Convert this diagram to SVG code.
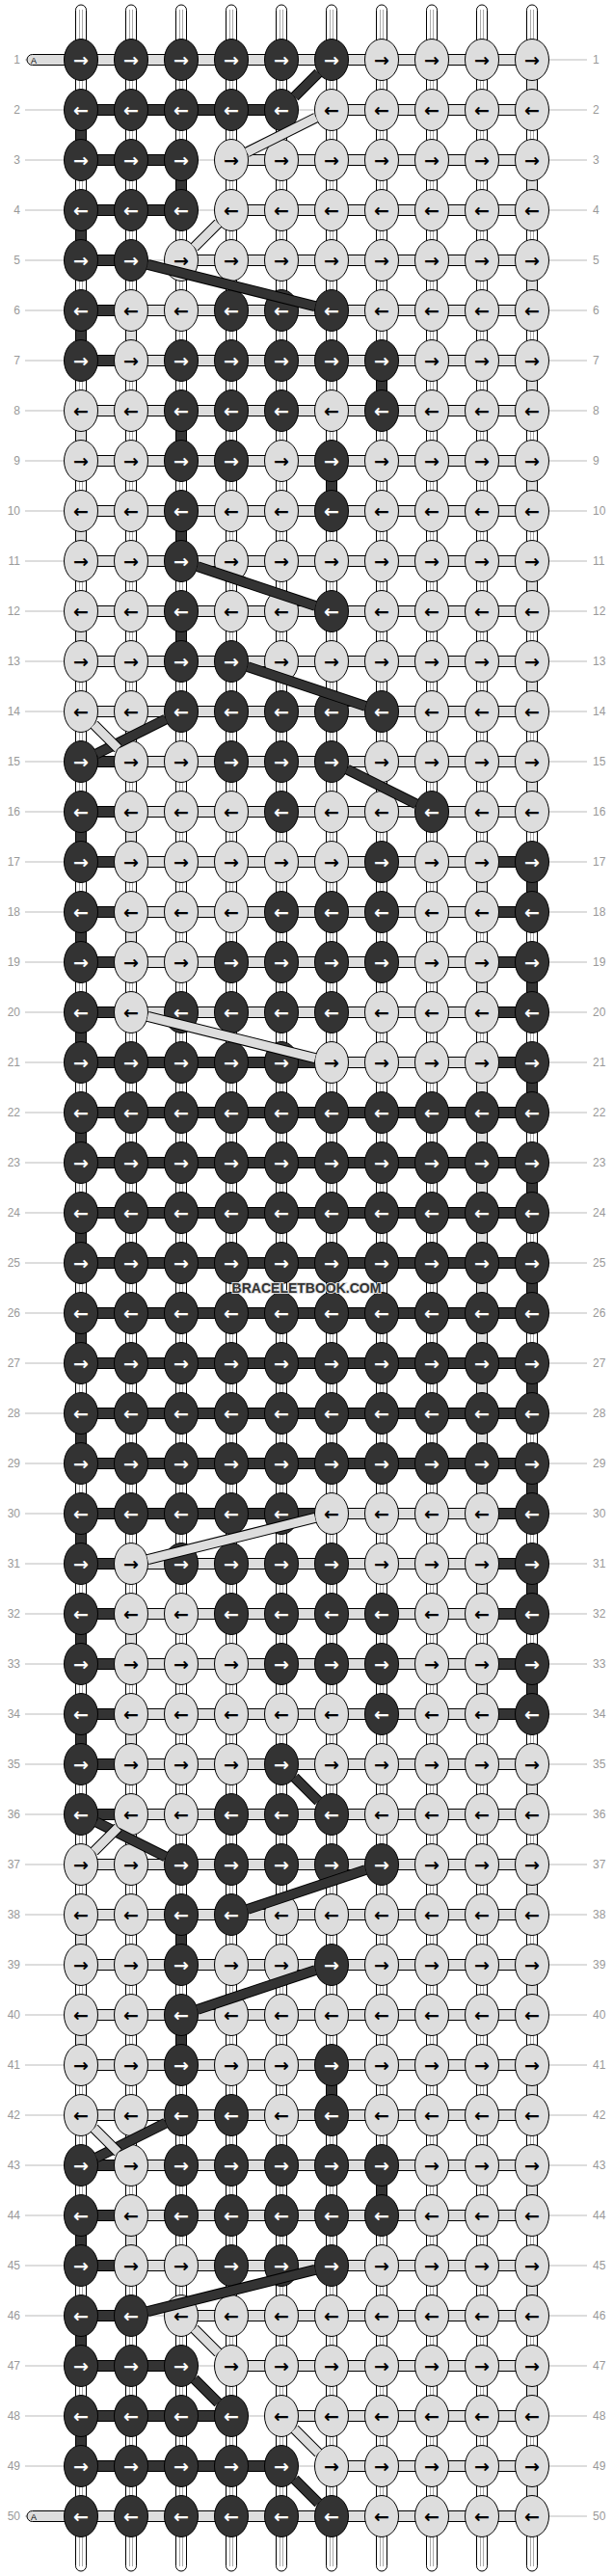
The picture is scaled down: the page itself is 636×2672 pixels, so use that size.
<svg xmlns="http://www.w3.org/2000/svg" width="636" height="2672" viewBox="0 0 636 2672">
<style>
.gl{stroke:#bbb;stroke-width:1;fill:none}
.lb text{font-family:"Liberation Sans",Arial,sans-serif;font-size:12px;fill:#999}
#labL text{text-anchor:end}
.wp{fill:#fff;stroke:#000;stroke-width:1}
.wl{stroke:#aaa;stroke-width:1;fill:none}
.D{fill:#333;stroke:#000;stroke-width:1}
.L{fill:#ddd;stroke:#000;stroke-width:1}
#nodes ellipse{rx:17.5px;ry:21.5px;stroke:#000;stroke-width:1}
#nodes .d ellipse{fill:#333}
#nodes .l ellipse{fill:#ddd}
#nodes text{font-family:"DejaVu Sans",sans-serif;font-weight:bold;font-size:19px;text-anchor:middle;dominant-baseline:central}
#nodes .d text{fill:#fff}
#nodes .l text{fill:#000}
.o{stroke:#000;stroke-width:11}
.cd{stroke:#333;stroke-width:9}
.cl{stroke:#ddd;stroke-width:9}
.wm{font-family:"Liberation Sans",Arial,sans-serif;font-weight:bold;font-size:14px;fill:#333;stroke:#ddd;stroke-width:2;paint-order:stroke;text-anchor:middle}
.al{font-family:"Liberation Sans",Arial,sans-serif;font-size:9px;fill:#000}
</style>
<g id="guides">
<path class="gl" d="M26 62H609M26 114H609M26 166H609M26 218H609M26 270H609M26 322H609M26 374H609M26 426H609M26 478H609M26 530H609M26 582H609M26 634H609M26 686H609M26 738H609M26 790H609M26 842H609M26 894H609M26 946H609M26 998H609M26 1050H609M26 1102H609M26 1154H609M26 1206H609M26 1258H609M26 1310H609M26 1362H609M26 1414H609M26 1466H609M26 1518H609M26 1570H609M26 1622H609M26 1674H609M26 1726H609M26 1778H609M26 1830H609M26 1882H609M26 1934H609M26 1986H609M26 2038H609M26 2090H609M26 2142H609M26 2194H609M26 2246H609M26 2298H609M26 2350H609M26 2402H609M26 2454H609M26 2506H609M26 2558H609M26 2610H609"/>
<g id="labL" class="lb">
<text x="21" y="66">1</text><text x="21" y="118">2</text><text x="21" y="170">3</text><text x="21" y="222">4</text><text x="21" y="274">5</text><text x="21" y="326">6</text><text x="21" y="378">7</text><text x="21" y="430">8</text><text x="21" y="482">9</text><text x="21" y="534">10</text>
<text x="21" y="586">11</text><text x="21" y="638">12</text><text x="21" y="690">13</text><text x="21" y="742">14</text><text x="21" y="794">15</text><text x="21" y="846">16</text><text x="21" y="898">17</text><text x="21" y="950">18</text><text x="21" y="1002">19</text><text x="21" y="1054">20</text>
<text x="21" y="1106">21</text><text x="21" y="1158">22</text><text x="21" y="1210">23</text><text x="21" y="1262">24</text><text x="21" y="1314">25</text><text x="21" y="1366">26</text><text x="21" y="1418">27</text><text x="21" y="1470">28</text><text x="21" y="1522">29</text><text x="21" y="1574">30</text>
<text x="21" y="1626">31</text><text x="21" y="1678">32</text><text x="21" y="1730">33</text><text x="21" y="1782">34</text><text x="21" y="1834">35</text><text x="21" y="1886">36</text><text x="21" y="1938">37</text><text x="21" y="1990">38</text><text x="21" y="2042">39</text><text x="21" y="2094">40</text>
<text x="21" y="2146">41</text><text x="21" y="2198">42</text><text x="21" y="2250">43</text><text x="21" y="2302">44</text><text x="21" y="2354">45</text><text x="21" y="2406">46</text><text x="21" y="2458">47</text><text x="21" y="2510">48</text><text x="21" y="2562">49</text><text x="21" y="2614">50</text>
</g>
<g id="labR" class="lb">
<text x="615" y="66">1</text><text x="615" y="118">2</text><text x="615" y="170">3</text><text x="615" y="222">4</text><text x="615" y="274">5</text><text x="615" y="326">6</text><text x="615" y="378">7</text><text x="615" y="430">8</text><text x="615" y="482">9</text><text x="615" y="534">10</text>
<text x="615" y="586">11</text><text x="615" y="638">12</text><text x="615" y="690">13</text><text x="615" y="742">14</text><text x="615" y="794">15</text><text x="615" y="846">16</text><text x="615" y="898">17</text><text x="615" y="950">18</text><text x="615" y="1002">19</text><text x="615" y="1054">20</text>
<text x="615" y="1106">21</text><text x="615" y="1158">22</text><text x="615" y="1210">23</text><text x="615" y="1262">24</text><text x="615" y="1314">25</text><text x="615" y="1366">26</text><text x="615" y="1418">27</text><text x="615" y="1470">28</text><text x="615" y="1522">29</text><text x="615" y="1574">30</text>
<text x="615" y="1626">31</text><text x="615" y="1678">32</text><text x="615" y="1730">33</text><text x="615" y="1782">34</text><text x="615" y="1834">35</text><text x="615" y="1886">36</text><text x="615" y="1938">37</text><text x="615" y="1990">38</text><text x="615" y="2042">39</text><text x="615" y="2094">40</text>
<text x="615" y="2146">41</text><text x="615" y="2198">42</text><text x="615" y="2250">43</text><text x="615" y="2302">44</text><text x="615" y="2354">45</text><text x="615" y="2406">46</text><text x="615" y="2458">47</text><text x="615" y="2510">48</text><text x="615" y="2562">49</text><text x="615" y="2614">50</text>
</g>
</g>
<g id="warps">
<rect class="wp" x="78.5" y="5" width="11" height="2662" rx="5.5"/>
<rect class="wp" x="130.5" y="5" width="11" height="2662" rx="5.5"/>
<rect class="wp" x="182.5" y="5" width="11" height="2662" rx="5.5"/>
<rect class="wp" x="234.5" y="5" width="11" height="2662" rx="5.5"/>
<rect class="wp" x="286.5" y="5" width="11" height="2662" rx="5.5"/>
<rect class="wp" x="338.5" y="5" width="11" height="2662" rx="5.5"/>
<rect class="wp" x="390.5" y="5" width="11" height="2662" rx="5.5"/>
<rect class="wp" x="442.5" y="5" width="11" height="2662" rx="5.5"/>
<rect class="wp" x="494.5" y="5" width="11" height="2662" rx="5.5"/>
<rect class="wp" x="546.5" y="5" width="11" height="2662" rx="5.5"/>
<path class="wl" d="M82.5 10V2662M85.5 10V2662M134.5 10V2662M137.5 10V2662M186.5 10V2662M189.5 10V2662M238.5 10V2662M241.5 10V2662M290.5 10V2662M293.5 10V2662M342.5 10V2662M345.5 10V2662M394.5 10V2662M397.5 10V2662M446.5 10V2662M449.5 10V2662M498.5 10V2662M501.5 10V2662M550.5 10V2662M553.5 10V2662"/>
</g>
<g id="connectors">
<g id="weft-start">
<rect class="L" x="28" y="56.5" width="60" height="11" rx="5.5"/>
<text class="al" x="32" y="65.5">A</text>
<rect class="L" x="28" y="2604.5" width="60" height="11" rx="5.5"/>
<text class="al" x="32" y="2613.5">A</text>
</g>
<g id="rows">
<rect class="L" x="84" y="56.5" width="468" height="11"/>
<rect class="D" x="84" y="108.5" width="208" height="11"/><rect class="L" x="344" y="108.5" width="208" height="11"/>
<rect class="D" x="84" y="160.5" width="104" height="11"/><rect class="L" x="240" y="160.5" width="312" height="11"/>
<rect class="D" x="84" y="212.5" width="104" height="11"/><rect class="L" x="240" y="212.5" width="312" height="11"/>
<rect class="D" x="84" y="264.5" width="52" height="11"/><rect class="L" x="188" y="264.5" width="364" height="11"/>
<rect class="D" x="84" y="316.5" width="52" height="11"/><rect class="L" x="136" y="316.5" width="416" height="11"/>
<rect class="D" x="84" y="368.5" width="52" height="11"/><rect class="L" x="136" y="368.5" width="416" height="11"/>
<rect class="L" x="84" y="420.5" width="468" height="11"/>
<rect class="L" x="84" y="472.5" width="468" height="11"/>
<rect class="L" x="84" y="524.5" width="468" height="11"/>
<rect class="L" x="84" y="576.5" width="468" height="11"/>
<rect class="L" x="84" y="628.5" width="468" height="11"/>
<rect class="L" x="84" y="680.5" width="468" height="11"/>
<rect class="L" x="84" y="732.5" width="468" height="11"/>
<rect class="D" x="84" y="784.5" width="52" height="11"/><rect class="L" x="136" y="784.5" width="416" height="11"/>
<rect class="D" x="84" y="836.5" width="52" height="11"/><rect class="L" x="136" y="836.5" width="416" height="11"/>
<rect class="D" x="84" y="888.5" width="52" height="11"/><rect class="L" x="136" y="888.5" width="364" height="11"/><rect class="D" x="500" y="888.5" width="52" height="11"/>
<rect class="D" x="84" y="940.5" width="52" height="11"/><rect class="L" x="136" y="940.5" width="364" height="11"/><rect class="D" x="500" y="940.5" width="52" height="11"/>
<rect class="D" x="84" y="992.5" width="52" height="11"/><rect class="L" x="136" y="992.5" width="364" height="11"/><rect class="D" x="500" y="992.5" width="52" height="11"/>
<rect class="D" x="84" y="1044.5" width="52" height="11"/><rect class="L" x="136" y="1044.5" width="364" height="11"/><rect class="D" x="500" y="1044.5" width="52" height="11"/>
<rect class="D" x="84" y="1096.5" width="260" height="11"/><rect class="L" x="344" y="1096.5" width="156" height="11"/><rect class="D" x="500" y="1096.5" width="52" height="11"/>
<rect class="D" x="84" y="1148.5" width="468" height="11"/>
<rect class="D" x="84" y="1200.5" width="468" height="11"/>
<rect class="D" x="84" y="1252.5" width="468" height="11"/>
<rect class="D" x="84" y="1304.5" width="468" height="11"/>
<rect class="D" x="84" y="1356.5" width="468" height="11"/>
<rect class="D" x="84" y="1408.5" width="468" height="11"/>
<rect class="D" x="84" y="1460.5" width="468" height="11"/>
<rect class="D" x="84" y="1512.5" width="468" height="11"/>
<rect class="D" x="84" y="1564.5" width="260" height="11"/><rect class="L" x="344" y="1564.5" width="156" height="11"/><rect class="D" x="500" y="1564.5" width="52" height="11"/>
<rect class="D" x="84" y="1616.5" width="52" height="11"/><rect class="L" x="136" y="1616.5" width="364" height="11"/><rect class="D" x="500" y="1616.5" width="52" height="11"/>
<rect class="D" x="84" y="1668.5" width="52" height="11"/><rect class="L" x="136" y="1668.5" width="364" height="11"/><rect class="D" x="500" y="1668.5" width="52" height="11"/>
<rect class="D" x="84" y="1720.5" width="52" height="11"/><rect class="L" x="136" y="1720.5" width="364" height="11"/><rect class="D" x="500" y="1720.5" width="52" height="11"/>
<rect class="D" x="84" y="1772.5" width="52" height="11"/><rect class="L" x="136" y="1772.5" width="364" height="11"/><rect class="D" x="500" y="1772.5" width="52" height="11"/>
<rect class="D" x="84" y="1824.5" width="52" height="11"/><rect class="L" x="136" y="1824.5" width="416" height="11"/>
<rect class="D" x="84" y="1876.5" width="52" height="11"/><rect class="L" x="136" y="1876.5" width="416" height="11"/>
<rect class="L" x="84" y="1928.5" width="468" height="11"/>
<rect class="L" x="84" y="1980.5" width="468" height="11"/>
<rect class="L" x="84" y="2032.5" width="468" height="11"/>
<rect class="L" x="84" y="2084.5" width="468" height="11"/>
<rect class="L" x="84" y="2136.5" width="468" height="11"/>
<rect class="L" x="84" y="2188.5" width="468" height="11"/>
<rect class="D" x="84" y="2240.5" width="52" height="11"/><rect class="L" x="136" y="2240.5" width="416" height="11"/>
<rect class="D" x="84" y="2292.5" width="52" height="11"/><rect class="L" x="136" y="2292.5" width="416" height="11"/>
<rect class="D" x="84" y="2344.5" width="52" height="11"/><rect class="L" x="136" y="2344.5" width="416" height="11"/>
<rect class="D" x="84" y="2396.5" width="52" height="11"/><rect class="L" x="188" y="2396.5" width="364" height="11"/>
<rect class="D" x="84" y="2448.5" width="104" height="11"/><rect class="L" x="240" y="2448.5" width="312" height="11"/>
<rect class="D" x="84" y="2500.5" width="156" height="11"/><rect class="L" x="292" y="2500.5" width="260" height="11"/>
<rect class="D" x="84" y="2552.5" width="208" height="11"/><rect class="L" x="344" y="2552.5" width="208" height="11"/>
<rect class="L" x="84" y="2604.5" width="468" height="11"/>
</g>
<g id="turns">
<rect class="D" x="78.5" y="114" width="11" height="52"/><rect class="D" x="78.5" y="218" width="11" height="52"/><rect class="D" x="78.5" y="322" width="11" height="52"/>
<rect class="D" x="78.5" y="842" width="11" height="52"/><rect class="D" x="78.5" y="946" width="11" height="52"/><rect class="D" x="78.5" y="1050" width="11" height="52"/>
<rect class="D" x="78.5" y="1154" width="11" height="52"/><rect class="D" x="78.5" y="1258" width="11" height="52"/><rect class="D" x="78.5" y="1362" width="11" height="52"/>
<rect class="D" x="78.5" y="1466" width="11" height="52"/><rect class="D" x="78.5" y="1570" width="11" height="52"/><rect class="D" x="78.5" y="1674" width="11" height="52"/>
<rect class="D" x="78.5" y="1778" width="11" height="52"/><rect class="D" x="78.5" y="2298" width="11" height="52"/><rect class="D" x="78.5" y="2402" width="11" height="52"/>
<rect class="D" x="78.5" y="2506" width="11" height="52"/>
<rect class="L" x="78.5" y="426" width="11" height="52"/><rect class="L" x="78.5" y="530" width="11" height="52"/><rect class="L" x="78.5" y="634" width="11" height="52"/>
<rect class="L" x="78.5" y="1986" width="11" height="52"/><rect class="L" x="78.5" y="2090" width="11" height="52"/>
<rect class="L" x="130.5" y="322" width="11" height="52"/><rect class="L" x="130.5" y="842" width="11" height="52"/><rect class="L" x="130.5" y="946" width="11" height="52"/>
<rect class="L" x="130.5" y="1674" width="11" height="52"/><rect class="L" x="130.5" y="1778" width="11" height="52"/><rect class="L" x="130.5" y="2298" width="11" height="52"/>
<rect class="D" x="182.5" y="166" width="11" height="52"/><rect class="D" x="182.5" y="426" width="11" height="52"/><rect class="D" x="182.5" y="530" width="11" height="52"/>
<rect class="D" x="182.5" y="634" width="11" height="52"/><rect class="D" x="182.5" y="1986" width="11" height="52"/><rect class="D" x="182.5" y="2090" width="11" height="52"/>
<rect class="D" x="338.5" y="478" width="11" height="52"/><rect class="D" x="338.5" y="2142" width="11" height="52"/>
<rect class="D" x="390.5" y="374" width="11" height="52"/><rect class="D" x="390.5" y="2246" width="11" height="52"/>
<rect class="L" x="494.5" y="894" width="11" height="52"/><rect class="L" x="494.5" y="998" width="11" height="52"/><rect class="L" x="494.5" y="1102" width="11" height="468"/>
<rect class="L" x="494.5" y="1622" width="11" height="52"/><rect class="L" x="494.5" y="1726" width="11" height="52"/>
<rect class="L" x="546.5" y="62" width="11" height="52"/><rect class="L" x="546.5" y="166" width="11" height="52"/><rect class="L" x="546.5" y="270" width="11" height="52"/>
<rect class="L" x="546.5" y="374" width="11" height="52"/><rect class="L" x="546.5" y="478" width="11" height="52"/><rect class="L" x="546.5" y="582" width="11" height="52"/>
<rect class="L" x="546.5" y="686" width="11" height="52"/><rect class="L" x="546.5" y="790" width="11" height="52"/><rect class="L" x="546.5" y="1830" width="11" height="52"/>
<rect class="L" x="546.5" y="1934" width="11" height="52"/><rect class="L" x="546.5" y="2038" width="11" height="52"/><rect class="L" x="546.5" y="2142" width="11" height="52"/>
<rect class="L" x="546.5" y="2246" width="11" height="52"/><rect class="L" x="546.5" y="2350" width="11" height="52"/><rect class="L" x="546.5" y="2454" width="11" height="52"/>
<rect class="L" x="546.5" y="2558" width="11" height="52"/>
<rect class="D" x="546.5" y="894" width="11" height="52"/><rect class="D" x="546.5" y="998" width="11" height="52"/><rect class="D" x="546.5" y="1102" width="11" height="52"/>
<rect class="D" x="546.5" y="1206" width="11" height="52"/><rect class="D" x="546.5" y="1310" width="11" height="52"/><rect class="D" x="546.5" y="1414" width="11" height="52"/>
<rect class="D" x="546.5" y="1518" width="11" height="52"/><rect class="D" x="546.5" y="1622" width="11" height="52"/><rect class="D" x="546.5" y="1726" width="11" height="52"/>
</g>
</g>
<g id="nodes">
<g id="n1-1" class="d" transform="translate(84 62)"><ellipse/><text>→</text></g>
<g id="n1-2" class="d" transform="translate(136 62)"><ellipse/><text>→</text></g>
<g id="n1-3" class="d" transform="translate(188 62)"><ellipse/><text>→</text></g>
<g id="n1-4" class="d" transform="translate(240 62)"><ellipse/><text>→</text></g>
<g id="n1-5" class="d" transform="translate(292 62)"><ellipse/><text>→</text></g>
<g id="n1-6" class="d" transform="translate(344 62)"><ellipse/><text>→</text></g>
<g id="n1-7" class="l" transform="translate(396 62)"><ellipse/><text>→</text></g>
<g id="n1-8" class="l" transform="translate(448 62)"><ellipse/><text>→</text></g>
<g id="n1-9" class="l" transform="translate(500 62)"><ellipse/><text>→</text></g>
<g id="n1-10" class="l" transform="translate(552 62)"><ellipse/><text>→</text></g>
<g id="n2-1" class="d" transform="translate(84 114)"><ellipse/><text>←</text></g>
<g id="n2-2" class="d" transform="translate(136 114)"><ellipse/><text>←</text></g>
<g id="n2-3" class="d" transform="translate(188 114)"><ellipse/><text>←</text></g>
<g id="n2-4" class="d" transform="translate(240 114)"><ellipse/><text>←</text></g>
<g id="n2-5" class="d" transform="translate(292 114)"><ellipse/><text>←</text></g>
<g id="n2-6" class="l" transform="translate(344 114)"><ellipse/><text>←</text></g>
<g id="n2-7" class="l" transform="translate(396 114)"><ellipse/><text>←</text></g>
<g id="n2-8" class="l" transform="translate(448 114)"><ellipse/><text>←</text></g>
<g id="n2-9" class="l" transform="translate(500 114)"><ellipse/><text>←</text></g>
<g id="n2-10" class="l" transform="translate(552 114)"><ellipse/><text>←</text></g>
<g id="n3-1" class="d" transform="translate(84 166)"><ellipse/><text>→</text></g>
<g id="n3-2" class="d" transform="translate(136 166)"><ellipse/><text>→</text></g>
<g id="n3-3" class="d" transform="translate(188 166)"><ellipse/><text>→</text></g>
<g id="n3-4" class="l" transform="translate(240 166)"><ellipse/><text>→</text></g>
<g id="n3-5" class="l" transform="translate(292 166)"><ellipse/><text>→</text></g>
<g id="n3-6" class="l" transform="translate(344 166)"><ellipse/><text>→</text></g>
<g id="n3-7" class="l" transform="translate(396 166)"><ellipse/><text>→</text></g>
<g id="n3-8" class="l" transform="translate(448 166)"><ellipse/><text>→</text></g>
<g id="n3-9" class="l" transform="translate(500 166)"><ellipse/><text>→</text></g>
<g id="n3-10" class="l" transform="translate(552 166)"><ellipse/><text>→</text></g>
<g id="n4-1" class="d" transform="translate(84 218)"><ellipse/><text>←</text></g>
<g id="n4-2" class="d" transform="translate(136 218)"><ellipse/><text>←</text></g>
<g id="n4-3" class="d" transform="translate(188 218)"><ellipse/><text>←</text></g>
<g id="n4-4" class="l" transform="translate(240 218)"><ellipse/><text>←</text></g>
<g id="n4-5" class="l" transform="translate(292 218)"><ellipse/><text>←</text></g>
<g id="n4-6" class="l" transform="translate(344 218)"><ellipse/><text>←</text></g>
<g id="n4-7" class="l" transform="translate(396 218)"><ellipse/><text>←</text></g>
<g id="n4-8" class="l" transform="translate(448 218)"><ellipse/><text>←</text></g>
<g id="n4-9" class="l" transform="translate(500 218)"><ellipse/><text>←</text></g>
<g id="n4-10" class="l" transform="translate(552 218)"><ellipse/><text>←</text></g>
<g id="n5-1" class="d" transform="translate(84 270)"><ellipse/><text>→</text></g>
<g id="n5-2" class="d" transform="translate(136 270)"><ellipse/><text>→</text></g>
<g id="n5-3" class="l" transform="translate(188 270)"><ellipse/><text>→</text></g>
<g id="n5-4" class="l" transform="translate(240 270)"><ellipse/><text>→</text></g>
<g id="n5-5" class="l" transform="translate(292 270)"><ellipse/><text>→</text></g>
<g id="n5-6" class="l" transform="translate(344 270)"><ellipse/><text>→</text></g>
<g id="n5-7" class="l" transform="translate(396 270)"><ellipse/><text>→</text></g>
<g id="n5-8" class="l" transform="translate(448 270)"><ellipse/><text>→</text></g>
<g id="n5-9" class="l" transform="translate(500 270)"><ellipse/><text>→</text></g>
<g id="n5-10" class="l" transform="translate(552 270)"><ellipse/><text>→</text></g>
<g id="n6-1" class="d" transform="translate(84 322)"><ellipse/><text>←</text></g>
<g id="n6-2" class="l" transform="translate(136 322)"><ellipse/><text>←</text></g>
<g id="n6-3" class="l" transform="translate(188 322)"><ellipse/><text>←</text></g>
<g id="n6-4" class="d" transform="translate(240 322)"><ellipse/><text>←</text></g>
<g id="n6-5" class="d" transform="translate(292 322)"><ellipse/><text>←</text></g>
<g id="n6-6" class="d" transform="translate(344 322)"><ellipse/><text>←</text></g>
<g id="n6-7" class="l" transform="translate(396 322)"><ellipse/><text>←</text></g>
<g id="n6-8" class="l" transform="translate(448 322)"><ellipse/><text>←</text></g>
<g id="n6-9" class="l" transform="translate(500 322)"><ellipse/><text>←</text></g>
<g id="n6-10" class="l" transform="translate(552 322)"><ellipse/><text>←</text></g>
<g id="n7-1" class="d" transform="translate(84 374)"><ellipse/><text>→</text></g>
<g id="n7-2" class="l" transform="translate(136 374)"><ellipse/><text>→</text></g>
<g id="n7-3" class="d" transform="translate(188 374)"><ellipse/><text>→</text></g>
<g id="n7-4" class="d" transform="translate(240 374)"><ellipse/><text>→</text></g>
<g id="n7-5" class="d" transform="translate(292 374)"><ellipse/><text>→</text></g>
<g id="n7-6" class="d" transform="translate(344 374)"><ellipse/><text>→</text></g>
<g id="n7-7" class="d" transform="translate(396 374)"><ellipse/><text>→</text></g>
<g id="n7-8" class="l" transform="translate(448 374)"><ellipse/><text>→</text></g>
<g id="n7-9" class="l" transform="translate(500 374)"><ellipse/><text>→</text></g>
<g id="n7-10" class="l" transform="translate(552 374)"><ellipse/><text>→</text></g>
<g id="n8-1" class="l" transform="translate(84 426)"><ellipse/><text>←</text></g>
<g id="n8-2" class="l" transform="translate(136 426)"><ellipse/><text>←</text></g>
<g id="n8-3" class="d" transform="translate(188 426)"><ellipse/><text>←</text></g>
<g id="n8-4" class="d" transform="translate(240 426)"><ellipse/><text>←</text></g>
<g id="n8-5" class="d" transform="translate(292 426)"><ellipse/><text>←</text></g>
<g id="n8-6" class="l" transform="translate(344 426)"><ellipse/><text>←</text></g>
<g id="n8-7" class="d" transform="translate(396 426)"><ellipse/><text>←</text></g>
<g id="n8-8" class="l" transform="translate(448 426)"><ellipse/><text>←</text></g>
<g id="n8-9" class="l" transform="translate(500 426)"><ellipse/><text>←</text></g>
<g id="n8-10" class="l" transform="translate(552 426)"><ellipse/><text>←</text></g>
<g id="n9-1" class="l" transform="translate(84 478)"><ellipse/><text>→</text></g>
<g id="n9-2" class="l" transform="translate(136 478)"><ellipse/><text>→</text></g>
<g id="n9-3" class="d" transform="translate(188 478)"><ellipse/><text>→</text></g>
<g id="n9-4" class="d" transform="translate(240 478)"><ellipse/><text>→</text></g>
<g id="n9-5" class="l" transform="translate(292 478)"><ellipse/><text>→</text></g>
<g id="n9-6" class="d" transform="translate(344 478)"><ellipse/><text>→</text></g>
<g id="n9-7" class="l" transform="translate(396 478)"><ellipse/><text>→</text></g>
<g id="n9-8" class="l" transform="translate(448 478)"><ellipse/><text>→</text></g>
<g id="n9-9" class="l" transform="translate(500 478)"><ellipse/><text>→</text></g>
<g id="n9-10" class="l" transform="translate(552 478)"><ellipse/><text>→</text></g>
<g id="n10-1" class="l" transform="translate(84 530)"><ellipse/><text>←</text></g>
<g id="n10-2" class="l" transform="translate(136 530)"><ellipse/><text>←</text></g>
<g id="n10-3" class="d" transform="translate(188 530)"><ellipse/><text>←</text></g>
<g id="n10-4" class="l" transform="translate(240 530)"><ellipse/><text>←</text></g>
<g id="n10-5" class="l" transform="translate(292 530)"><ellipse/><text>←</text></g>
<g id="n10-6" class="d" transform="translate(344 530)"><ellipse/><text>←</text></g>
<g id="n10-7" class="l" transform="translate(396 530)"><ellipse/><text>←</text></g>
<g id="n10-8" class="l" transform="translate(448 530)"><ellipse/><text>←</text></g>
<g id="n10-9" class="l" transform="translate(500 530)"><ellipse/><text>←</text></g>
<g id="n10-10" class="l" transform="translate(552 530)"><ellipse/><text>←</text></g>
<g id="n11-1" class="l" transform="translate(84 582)"><ellipse/><text>→</text></g>
<g id="n11-2" class="l" transform="translate(136 582)"><ellipse/><text>→</text></g>
<g id="n11-3" class="d" transform="translate(188 582)"><ellipse/><text>→</text></g>
<g id="n11-4" class="l" transform="translate(240 582)"><ellipse/><text>→</text></g>
<g id="n11-5" class="l" transform="translate(292 582)"><ellipse/><text>→</text></g>
<g id="n11-6" class="l" transform="translate(344 582)"><ellipse/><text>→</text></g>
<g id="n11-7" class="l" transform="translate(396 582)"><ellipse/><text>→</text></g>
<g id="n11-8" class="l" transform="translate(448 582)"><ellipse/><text>→</text></g>
<g id="n11-9" class="l" transform="translate(500 582)"><ellipse/><text>→</text></g>
<g id="n11-10" class="l" transform="translate(552 582)"><ellipse/><text>→</text></g>
<g id="n12-1" class="l" transform="translate(84 634)"><ellipse/><text>←</text></g>
<g id="n12-2" class="l" transform="translate(136 634)"><ellipse/><text>←</text></g>
<g id="n12-3" class="d" transform="translate(188 634)"><ellipse/><text>←</text></g>
<g id="n12-4" class="l" transform="translate(240 634)"><ellipse/><text>←</text></g>
<g id="n12-5" class="l" transform="translate(292 634)"><ellipse/><text>←</text></g>
<g id="n12-6" class="d" transform="translate(344 634)"><ellipse/><text>←</text></g>
<g id="n12-7" class="l" transform="translate(396 634)"><ellipse/><text>←</text></g>
<g id="n12-8" class="l" transform="translate(448 634)"><ellipse/><text>←</text></g>
<g id="n12-9" class="l" transform="translate(500 634)"><ellipse/><text>←</text></g>
<g id="n12-10" class="l" transform="translate(552 634)"><ellipse/><text>←</text></g>
<g id="n13-1" class="l" transform="translate(84 686)"><ellipse/><text>→</text></g>
<g id="n13-2" class="l" transform="translate(136 686)"><ellipse/><text>→</text></g>
<g id="n13-3" class="d" transform="translate(188 686)"><ellipse/><text>→</text></g>
<g id="n13-4" class="d" transform="translate(240 686)"><ellipse/><text>→</text></g>
<g id="n13-5" class="l" transform="translate(292 686)"><ellipse/><text>→</text></g>
<g id="n13-6" class="l" transform="translate(344 686)"><ellipse/><text>→</text></g>
<g id="n13-7" class="l" transform="translate(396 686)"><ellipse/><text>→</text></g>
<g id="n13-8" class="l" transform="translate(448 686)"><ellipse/><text>→</text></g>
<g id="n13-9" class="l" transform="translate(500 686)"><ellipse/><text>→</text></g>
<g id="n13-10" class="l" transform="translate(552 686)"><ellipse/><text>→</text></g>
<g id="n14-1" class="l" transform="translate(84 738)"><ellipse/><text>←</text></g>
<g id="n14-2" class="l" transform="translate(136 738)"><ellipse/><text>←</text></g>
<g id="n14-3" class="d" transform="translate(188 738)"><ellipse/><text>←</text></g>
<g id="n14-4" class="d" transform="translate(240 738)"><ellipse/><text>←</text></g>
<g id="n14-5" class="d" transform="translate(292 738)"><ellipse/><text>←</text></g>
<g id="n14-6" class="d" transform="translate(344 738)"><ellipse/><text>←</text></g>
<g id="n14-7" class="d" transform="translate(396 738)"><ellipse/><text>←</text></g>
<g id="n14-8" class="l" transform="translate(448 738)"><ellipse/><text>←</text></g>
<g id="n14-9" class="l" transform="translate(500 738)"><ellipse/><text>←</text></g>
<g id="n14-10" class="l" transform="translate(552 738)"><ellipse/><text>←</text></g>
<g id="n15-1" class="d" transform="translate(84 790)"><ellipse/><text>→</text></g>
<g id="n15-2" class="l" transform="translate(136 790)"><ellipse/><text>→</text></g>
<g id="n15-3" class="l" transform="translate(188 790)"><ellipse/><text>→</text></g>
<g id="n15-4" class="d" transform="translate(240 790)"><ellipse/><text>→</text></g>
<g id="n15-5" class="d" transform="translate(292 790)"><ellipse/><text>→</text></g>
<g id="n15-6" class="d" transform="translate(344 790)"><ellipse/><text>→</text></g>
<g id="n15-7" class="l" transform="translate(396 790)"><ellipse/><text>→</text></g>
<g id="n15-8" class="l" transform="translate(448 790)"><ellipse/><text>→</text></g>
<g id="n15-9" class="l" transform="translate(500 790)"><ellipse/><text>→</text></g>
<g id="n15-10" class="l" transform="translate(552 790)"><ellipse/><text>→</text></g>
<g id="n16-1" class="d" transform="translate(84 842)"><ellipse/><text>←</text></g>
<g id="n16-2" class="l" transform="translate(136 842)"><ellipse/><text>←</text></g>
<g id="n16-3" class="l" transform="translate(188 842)"><ellipse/><text>←</text></g>
<g id="n16-4" class="l" transform="translate(240 842)"><ellipse/><text>←</text></g>
<g id="n16-5" class="d" transform="translate(292 842)"><ellipse/><text>←</text></g>
<g id="n16-6" class="l" transform="translate(344 842)"><ellipse/><text>←</text></g>
<g id="n16-7" class="l" transform="translate(396 842)"><ellipse/><text>←</text></g>
<g id="n16-8" class="d" transform="translate(448 842)"><ellipse/><text>←</text></g>
<g id="n16-9" class="l" transform="translate(500 842)"><ellipse/><text>←</text></g>
<g id="n16-10" class="l" transform="translate(552 842)"><ellipse/><text>←</text></g>
<g id="n17-1" class="d" transform="translate(84 894)"><ellipse/><text>→</text></g>
<g id="n17-2" class="l" transform="translate(136 894)"><ellipse/><text>→</text></g>
<g id="n17-3" class="l" transform="translate(188 894)"><ellipse/><text>→</text></g>
<g id="n17-4" class="l" transform="translate(240 894)"><ellipse/><text>→</text></g>
<g id="n17-5" class="l" transform="translate(292 894)"><ellipse/><text>→</text></g>
<g id="n17-6" class="l" transform="translate(344 894)"><ellipse/><text>→</text></g>
<g id="n17-7" class="d" transform="translate(396 894)"><ellipse/><text>→</text></g>
<g id="n17-8" class="l" transform="translate(448 894)"><ellipse/><text>→</text></g>
<g id="n17-9" class="l" transform="translate(500 894)"><ellipse/><text>→</text></g>
<g id="n17-10" class="d" transform="translate(552 894)"><ellipse/><text>→</text></g>
<g id="n18-1" class="d" transform="translate(84 946)"><ellipse/><text>←</text></g>
<g id="n18-2" class="l" transform="translate(136 946)"><ellipse/><text>←</text></g>
<g id="n18-3" class="l" transform="translate(188 946)"><ellipse/><text>←</text></g>
<g id="n18-4" class="l" transform="translate(240 946)"><ellipse/><text>←</text></g>
<g id="n18-5" class="d" transform="translate(292 946)"><ellipse/><text>←</text></g>
<g id="n18-6" class="d" transform="translate(344 946)"><ellipse/><text>←</text></g>
<g id="n18-7" class="d" transform="translate(396 946)"><ellipse/><text>←</text></g>
<g id="n18-8" class="l" transform="translate(448 946)"><ellipse/><text>←</text></g>
<g id="n18-9" class="l" transform="translate(500 946)"><ellipse/><text>←</text></g>
<g id="n18-10" class="d" transform="translate(552 946)"><ellipse/><text>←</text></g>
<g id="n19-1" class="d" transform="translate(84 998)"><ellipse/><text>→</text></g>
<g id="n19-2" class="l" transform="translate(136 998)"><ellipse/><text>→</text></g>
<g id="n19-3" class="l" transform="translate(188 998)"><ellipse/><text>→</text></g>
<g id="n19-4" class="d" transform="translate(240 998)"><ellipse/><text>→</text></g>
<g id="n19-5" class="d" transform="translate(292 998)"><ellipse/><text>→</text></g>
<g id="n19-6" class="d" transform="translate(344 998)"><ellipse/><text>→</text></g>
<g id="n19-7" class="d" transform="translate(396 998)"><ellipse/><text>→</text></g>
<g id="n19-8" class="l" transform="translate(448 998)"><ellipse/><text>→</text></g>
<g id="n19-9" class="l" transform="translate(500 998)"><ellipse/><text>→</text></g>
<g id="n19-10" class="d" transform="translate(552 998)"><ellipse/><text>→</text></g>
<g id="n20-1" class="d" transform="translate(84 1050)"><ellipse/><text>←</text></g>
<g id="n20-2" class="l" transform="translate(136 1050)"><ellipse/><text>←</text></g>
<g id="n20-3" class="d" transform="translate(188 1050)"><ellipse/><text>←</text></g>
<g id="n20-4" class="d" transform="translate(240 1050)"><ellipse/><text>←</text></g>
<g id="n20-5" class="d" transform="translate(292 1050)"><ellipse/><text>←</text></g>
<g id="n20-6" class="d" transform="translate(344 1050)"><ellipse/><text>←</text></g>
<g id="n20-7" class="l" transform="translate(396 1050)"><ellipse/><text>←</text></g>
<g id="n20-8" class="l" transform="translate(448 1050)"><ellipse/><text>←</text></g>
<g id="n20-9" class="l" transform="translate(500 1050)"><ellipse/><text>←</text></g>
<g id="n20-10" class="d" transform="translate(552 1050)"><ellipse/><text>←</text></g>
<g id="n21-1" class="d" transform="translate(84 1102)"><ellipse/><text>→</text></g>
<g id="n21-2" class="d" transform="translate(136 1102)"><ellipse/><text>→</text></g>
<g id="n21-3" class="d" transform="translate(188 1102)"><ellipse/><text>→</text></g>
<g id="n21-4" class="d" transform="translate(240 1102)"><ellipse/><text>→</text></g>
<g id="n21-5" class="d" transform="translate(292 1102)"><ellipse/><text>→</text></g>
<g id="n21-6" class="l" transform="translate(344 1102)"><ellipse/><text>→</text></g>
<g id="n21-7" class="l" transform="translate(396 1102)"><ellipse/><text>→</text></g>
<g id="n21-8" class="l" transform="translate(448 1102)"><ellipse/><text>→</text></g>
<g id="n21-9" class="l" transform="translate(500 1102)"><ellipse/><text>→</text></g>
<g id="n21-10" class="d" transform="translate(552 1102)"><ellipse/><text>→</text></g>
<g id="n22-1" class="d" transform="translate(84 1154)"><ellipse/><text>←</text></g>
<g id="n22-2" class="d" transform="translate(136 1154)"><ellipse/><text>←</text></g>
<g id="n22-3" class="d" transform="translate(188 1154)"><ellipse/><text>←</text></g>
<g id="n22-4" class="d" transform="translate(240 1154)"><ellipse/><text>←</text></g>
<g id="n22-5" class="d" transform="translate(292 1154)"><ellipse/><text>←</text></g>
<g id="n22-6" class="d" transform="translate(344 1154)"><ellipse/><text>←</text></g>
<g id="n22-7" class="d" transform="translate(396 1154)"><ellipse/><text>←</text></g>
<g id="n22-8" class="d" transform="translate(448 1154)"><ellipse/><text>←</text></g>
<g id="n22-9" class="d" transform="translate(500 1154)"><ellipse/><text>←</text></g>
<g id="n22-10" class="d" transform="translate(552 1154)"><ellipse/><text>←</text></g>
<g id="n23-1" class="d" transform="translate(84 1206)"><ellipse/><text>→</text></g>
<g id="n23-2" class="d" transform="translate(136 1206)"><ellipse/><text>→</text></g>
<g id="n23-3" class="d" transform="translate(188 1206)"><ellipse/><text>→</text></g>
<g id="n23-4" class="d" transform="translate(240 1206)"><ellipse/><text>→</text></g>
<g id="n23-5" class="d" transform="translate(292 1206)"><ellipse/><text>→</text></g>
<g id="n23-6" class="d" transform="translate(344 1206)"><ellipse/><text>→</text></g>
<g id="n23-7" class="d" transform="translate(396 1206)"><ellipse/><text>→</text></g>
<g id="n23-8" class="d" transform="translate(448 1206)"><ellipse/><text>→</text></g>
<g id="n23-9" class="d" transform="translate(500 1206)"><ellipse/><text>→</text></g>
<g id="n23-10" class="d" transform="translate(552 1206)"><ellipse/><text>→</text></g>
<g id="n24-1" class="d" transform="translate(84 1258)"><ellipse/><text>←</text></g>
<g id="n24-2" class="d" transform="translate(136 1258)"><ellipse/><text>←</text></g>
<g id="n24-3" class="d" transform="translate(188 1258)"><ellipse/><text>←</text></g>
<g id="n24-4" class="d" transform="translate(240 1258)"><ellipse/><text>←</text></g>
<g id="n24-5" class="d" transform="translate(292 1258)"><ellipse/><text>←</text></g>
<g id="n24-6" class="d" transform="translate(344 1258)"><ellipse/><text>←</text></g>
<g id="n24-7" class="d" transform="translate(396 1258)"><ellipse/><text>←</text></g>
<g id="n24-8" class="d" transform="translate(448 1258)"><ellipse/><text>←</text></g>
<g id="n24-9" class="d" transform="translate(500 1258)"><ellipse/><text>←</text></g>
<g id="n24-10" class="d" transform="translate(552 1258)"><ellipse/><text>←</text></g>
<g id="n25-1" class="d" transform="translate(84 1310)"><ellipse/><text>→</text></g>
<g id="n25-2" class="d" transform="translate(136 1310)"><ellipse/><text>→</text></g>
<g id="n25-3" class="d" transform="translate(188 1310)"><ellipse/><text>→</text></g>
<g id="n25-4" class="d" transform="translate(240 1310)"><ellipse/><text>→</text></g>
<g id="n25-5" class="d" transform="translate(292 1310)"><ellipse/><text>→</text></g>
<g id="n25-6" class="d" transform="translate(344 1310)"><ellipse/><text>→</text></g>
<g id="n25-7" class="d" transform="translate(396 1310)"><ellipse/><text>→</text></g>
<g id="n25-8" class="d" transform="translate(448 1310)"><ellipse/><text>→</text></g>
<g id="n25-9" class="d" transform="translate(500 1310)"><ellipse/><text>→</text></g>
<g id="n25-10" class="d" transform="translate(552 1310)"><ellipse/><text>→</text></g>
<g id="n26-1" class="d" transform="translate(84 1362)"><ellipse/><text>←</text></g>
<g id="n26-2" class="d" transform="translate(136 1362)"><ellipse/><text>←</text></g>
<g id="n26-3" class="d" transform="translate(188 1362)"><ellipse/><text>←</text></g>
<g id="n26-4" class="d" transform="translate(240 1362)"><ellipse/><text>←</text></g>
<g id="n26-5" class="d" transform="translate(292 1362)"><ellipse/><text>←</text></g>
<g id="n26-6" class="d" transform="translate(344 1362)"><ellipse/><text>←</text></g>
<g id="n26-7" class="d" transform="translate(396 1362)"><ellipse/><text>←</text></g>
<g id="n26-8" class="d" transform="translate(448 1362)"><ellipse/><text>←</text></g>
<g id="n26-9" class="d" transform="translate(500 1362)"><ellipse/><text>←</text></g>
<g id="n26-10" class="d" transform="translate(552 1362)"><ellipse/><text>←</text></g>
<g id="n27-1" class="d" transform="translate(84 1414)"><ellipse/><text>→</text></g>
<g id="n27-2" class="d" transform="translate(136 1414)"><ellipse/><text>→</text></g>
<g id="n27-3" class="d" transform="translate(188 1414)"><ellipse/><text>→</text></g>
<g id="n27-4" class="d" transform="translate(240 1414)"><ellipse/><text>→</text></g>
<g id="n27-5" class="d" transform="translate(292 1414)"><ellipse/><text>→</text></g>
<g id="n27-6" class="d" transform="translate(344 1414)"><ellipse/><text>→</text></g>
<g id="n27-7" class="d" transform="translate(396 1414)"><ellipse/><text>→</text></g>
<g id="n27-8" class="d" transform="translate(448 1414)"><ellipse/><text>→</text></g>
<g id="n27-9" class="d" transform="translate(500 1414)"><ellipse/><text>→</text></g>
<g id="n27-10" class="d" transform="translate(552 1414)"><ellipse/><text>→</text></g>
<g id="n28-1" class="d" transform="translate(84 1466)"><ellipse/><text>←</text></g>
<g id="n28-2" class="d" transform="translate(136 1466)"><ellipse/><text>←</text></g>
<g id="n28-3" class="d" transform="translate(188 1466)"><ellipse/><text>←</text></g>
<g id="n28-4" class="d" transform="translate(240 1466)"><ellipse/><text>←</text></g>
<g id="n28-5" class="d" transform="translate(292 1466)"><ellipse/><text>←</text></g>
<g id="n28-6" class="d" transform="translate(344 1466)"><ellipse/><text>←</text></g>
<g id="n28-7" class="d" transform="translate(396 1466)"><ellipse/><text>←</text></g>
<g id="n28-8" class="d" transform="translate(448 1466)"><ellipse/><text>←</text></g>
<g id="n28-9" class="d" transform="translate(500 1466)"><ellipse/><text>←</text></g>
<g id="n28-10" class="d" transform="translate(552 1466)"><ellipse/><text>←</text></g>
<g id="n29-1" class="d" transform="translate(84 1518)"><ellipse/><text>→</text></g>
<g id="n29-2" class="d" transform="translate(136 1518)"><ellipse/><text>→</text></g>
<g id="n29-3" class="d" transform="translate(188 1518)"><ellipse/><text>→</text></g>
<g id="n29-4" class="d" transform="translate(240 1518)"><ellipse/><text>→</text></g>
<g id="n29-5" class="d" transform="translate(292 1518)"><ellipse/><text>→</text></g>
<g id="n29-6" class="d" transform="translate(344 1518)"><ellipse/><text>→</text></g>
<g id="n29-7" class="d" transform="translate(396 1518)"><ellipse/><text>→</text></g>
<g id="n29-8" class="d" transform="translate(448 1518)"><ellipse/><text>→</text></g>
<g id="n29-9" class="d" transform="translate(500 1518)"><ellipse/><text>→</text></g>
<g id="n29-10" class="d" transform="translate(552 1518)"><ellipse/><text>→</text></g>
<g id="n30-1" class="d" transform="translate(84 1570)"><ellipse/><text>←</text></g>
<g id="n30-2" class="d" transform="translate(136 1570)"><ellipse/><text>←</text></g>
<g id="n30-3" class="d" transform="translate(188 1570)"><ellipse/><text>←</text></g>
<g id="n30-4" class="d" transform="translate(240 1570)"><ellipse/><text>←</text></g>
<g id="n30-5" class="d" transform="translate(292 1570)"><ellipse/><text>←</text></g>
<g id="n30-6" class="l" transform="translate(344 1570)"><ellipse/><text>←</text></g>
<g id="n30-7" class="l" transform="translate(396 1570)"><ellipse/><text>←</text></g>
<g id="n30-8" class="l" transform="translate(448 1570)"><ellipse/><text>←</text></g>
<g id="n30-9" class="l" transform="translate(500 1570)"><ellipse/><text>←</text></g>
<g id="n30-10" class="d" transform="translate(552 1570)"><ellipse/><text>←</text></g>
<g id="n31-1" class="d" transform="translate(84 1622)"><ellipse/><text>→</text></g>
<g id="n31-2" class="l" transform="translate(136 1622)"><ellipse/><text>→</text></g>
<g id="n31-3" class="d" transform="translate(188 1622)"><ellipse/><text>→</text></g>
<g id="n31-4" class="d" transform="translate(240 1622)"><ellipse/><text>→</text></g>
<g id="n31-5" class="d" transform="translate(292 1622)"><ellipse/><text>→</text></g>
<g id="n31-6" class="d" transform="translate(344 1622)"><ellipse/><text>→</text></g>
<g id="n31-7" class="l" transform="translate(396 1622)"><ellipse/><text>→</text></g>
<g id="n31-8" class="l" transform="translate(448 1622)"><ellipse/><text>→</text></g>
<g id="n31-9" class="l" transform="translate(500 1622)"><ellipse/><text>→</text></g>
<g id="n31-10" class="d" transform="translate(552 1622)"><ellipse/><text>→</text></g>
<g id="n32-1" class="d" transform="translate(84 1674)"><ellipse/><text>←</text></g>
<g id="n32-2" class="l" transform="translate(136 1674)"><ellipse/><text>←</text></g>
<g id="n32-3" class="l" transform="translate(188 1674)"><ellipse/><text>←</text></g>
<g id="n32-4" class="d" transform="translate(240 1674)"><ellipse/><text>←</text></g>
<g id="n32-5" class="d" transform="translate(292 1674)"><ellipse/><text>←</text></g>
<g id="n32-6" class="d" transform="translate(344 1674)"><ellipse/><text>←</text></g>
<g id="n32-7" class="d" transform="translate(396 1674)"><ellipse/><text>←</text></g>
<g id="n32-8" class="l" transform="translate(448 1674)"><ellipse/><text>←</text></g>
<g id="n32-9" class="l" transform="translate(500 1674)"><ellipse/><text>←</text></g>
<g id="n32-10" class="d" transform="translate(552 1674)"><ellipse/><text>←</text></g>
<g id="n33-1" class="d" transform="translate(84 1726)"><ellipse/><text>→</text></g>
<g id="n33-2" class="l" transform="translate(136 1726)"><ellipse/><text>→</text></g>
<g id="n33-3" class="l" transform="translate(188 1726)"><ellipse/><text>→</text></g>
<g id="n33-4" class="l" transform="translate(240 1726)"><ellipse/><text>→</text></g>
<g id="n33-5" class="d" transform="translate(292 1726)"><ellipse/><text>→</text></g>
<g id="n33-6" class="d" transform="translate(344 1726)"><ellipse/><text>→</text></g>
<g id="n33-7" class="d" transform="translate(396 1726)"><ellipse/><text>→</text></g>
<g id="n33-8" class="l" transform="translate(448 1726)"><ellipse/><text>→</text></g>
<g id="n33-9" class="l" transform="translate(500 1726)"><ellipse/><text>→</text></g>
<g id="n33-10" class="d" transform="translate(552 1726)"><ellipse/><text>→</text></g>
<g id="n34-1" class="d" transform="translate(84 1778)"><ellipse/><text>←</text></g>
<g id="n34-2" class="l" transform="translate(136 1778)"><ellipse/><text>←</text></g>
<g id="n34-3" class="l" transform="translate(188 1778)"><ellipse/><text>←</text></g>
<g id="n34-4" class="l" transform="translate(240 1778)"><ellipse/><text>←</text></g>
<g id="n34-5" class="l" transform="translate(292 1778)"><ellipse/><text>←</text></g>
<g id="n34-6" class="l" transform="translate(344 1778)"><ellipse/><text>←</text></g>
<g id="n34-7" class="d" transform="translate(396 1778)"><ellipse/><text>←</text></g>
<g id="n34-8" class="l" transform="translate(448 1778)"><ellipse/><text>←</text></g>
<g id="n34-9" class="l" transform="translate(500 1778)"><ellipse/><text>←</text></g>
<g id="n34-10" class="d" transform="translate(552 1778)"><ellipse/><text>←</text></g>
<g id="n35-1" class="d" transform="translate(84 1830)"><ellipse/><text>→</text></g>
<g id="n35-2" class="l" transform="translate(136 1830)"><ellipse/><text>→</text></g>
<g id="n35-3" class="l" transform="translate(188 1830)"><ellipse/><text>→</text></g>
<g id="n35-4" class="l" transform="translate(240 1830)"><ellipse/><text>→</text></g>
<g id="n35-5" class="d" transform="translate(292 1830)"><ellipse/><text>→</text></g>
<g id="n35-6" class="l" transform="translate(344 1830)"><ellipse/><text>→</text></g>
<g id="n35-7" class="l" transform="translate(396 1830)"><ellipse/><text>→</text></g>
<g id="n35-8" class="l" transform="translate(448 1830)"><ellipse/><text>→</text></g>
<g id="n35-9" class="l" transform="translate(500 1830)"><ellipse/><text>→</text></g>
<g id="n35-10" class="l" transform="translate(552 1830)"><ellipse/><text>→</text></g>
<g id="n36-1" class="d" transform="translate(84 1882)"><ellipse/><text>←</text></g>
<g id="n36-2" class="l" transform="translate(136 1882)"><ellipse/><text>←</text></g>
<g id="n36-3" class="l" transform="translate(188 1882)"><ellipse/><text>←</text></g>
<g id="n36-4" class="d" transform="translate(240 1882)"><ellipse/><text>←</text></g>
<g id="n36-5" class="d" transform="translate(292 1882)"><ellipse/><text>←</text></g>
<g id="n36-6" class="d" transform="translate(344 1882)"><ellipse/><text>←</text></g>
<g id="n36-7" class="l" transform="translate(396 1882)"><ellipse/><text>←</text></g>
<g id="n36-8" class="l" transform="translate(448 1882)"><ellipse/><text>←</text></g>
<g id="n36-9" class="l" transform="translate(500 1882)"><ellipse/><text>←</text></g>
<g id="n36-10" class="l" transform="translate(552 1882)"><ellipse/><text>←</text></g>
<g id="n37-1" class="l" transform="translate(84 1934)"><ellipse/><text>→</text></g>
<g id="n37-2" class="l" transform="translate(136 1934)"><ellipse/><text>→</text></g>
<g id="n37-3" class="d" transform="translate(188 1934)"><ellipse/><text>→</text></g>
<g id="n37-4" class="d" transform="translate(240 1934)"><ellipse/><text>→</text></g>
<g id="n37-5" class="d" transform="translate(292 1934)"><ellipse/><text>→</text></g>
<g id="n37-6" class="d" transform="translate(344 1934)"><ellipse/><text>→</text></g>
<g id="n37-7" class="d" transform="translate(396 1934)"><ellipse/><text>→</text></g>
<g id="n37-8" class="l" transform="translate(448 1934)"><ellipse/><text>→</text></g>
<g id="n37-9" class="l" transform="translate(500 1934)"><ellipse/><text>→</text></g>
<g id="n37-10" class="l" transform="translate(552 1934)"><ellipse/><text>→</text></g>
<g id="n38-1" class="l" transform="translate(84 1986)"><ellipse/><text>←</text></g>
<g id="n38-2" class="l" transform="translate(136 1986)"><ellipse/><text>←</text></g>
<g id="n38-3" class="d" transform="translate(188 1986)"><ellipse/><text>←</text></g>
<g id="n38-4" class="d" transform="translate(240 1986)"><ellipse/><text>←</text></g>
<g id="n38-5" class="l" transform="translate(292 1986)"><ellipse/><text>←</text></g>
<g id="n38-6" class="l" transform="translate(344 1986)"><ellipse/><text>←</text></g>
<g id="n38-7" class="l" transform="translate(396 1986)"><ellipse/><text>←</text></g>
<g id="n38-8" class="l" transform="translate(448 1986)"><ellipse/><text>←</text></g>
<g id="n38-9" class="l" transform="translate(500 1986)"><ellipse/><text>←</text></g>
<g id="n38-10" class="l" transform="translate(552 1986)"><ellipse/><text>←</text></g>
<g id="n39-1" class="l" transform="translate(84 2038)"><ellipse/><text>→</text></g>
<g id="n39-2" class="l" transform="translate(136 2038)"><ellipse/><text>→</text></g>
<g id="n39-3" class="d" transform="translate(188 2038)"><ellipse/><text>→</text></g>
<g id="n39-4" class="l" transform="translate(240 2038)"><ellipse/><text>→</text></g>
<g id="n39-5" class="l" transform="translate(292 2038)"><ellipse/><text>→</text></g>
<g id="n39-6" class="d" transform="translate(344 2038)"><ellipse/><text>→</text></g>
<g id="n39-7" class="l" transform="translate(396 2038)"><ellipse/><text>→</text></g>
<g id="n39-8" class="l" transform="translate(448 2038)"><ellipse/><text>→</text></g>
<g id="n39-9" class="l" transform="translate(500 2038)"><ellipse/><text>→</text></g>
<g id="n39-10" class="l" transform="translate(552 2038)"><ellipse/><text>→</text></g>
<g id="n40-1" class="l" transform="translate(84 2090)"><ellipse/><text>←</text></g>
<g id="n40-2" class="l" transform="translate(136 2090)"><ellipse/><text>←</text></g>
<g id="n40-3" class="d" transform="translate(188 2090)"><ellipse/><text>←</text></g>
<g id="n40-4" class="l" transform="translate(240 2090)"><ellipse/><text>←</text></g>
<g id="n40-5" class="l" transform="translate(292 2090)"><ellipse/><text>←</text></g>
<g id="n40-6" class="l" transform="translate(344 2090)"><ellipse/><text>←</text></g>
<g id="n40-7" class="l" transform="translate(396 2090)"><ellipse/><text>←</text></g>
<g id="n40-8" class="l" transform="translate(448 2090)"><ellipse/><text>←</text></g>
<g id="n40-9" class="l" transform="translate(500 2090)"><ellipse/><text>←</text></g>
<g id="n40-10" class="l" transform="translate(552 2090)"><ellipse/><text>←</text></g>
<g id="n41-1" class="l" transform="translate(84 2142)"><ellipse/><text>→</text></g>
<g id="n41-2" class="l" transform="translate(136 2142)"><ellipse/><text>→</text></g>
<g id="n41-3" class="d" transform="translate(188 2142)"><ellipse/><text>→</text></g>
<g id="n41-4" class="l" transform="translate(240 2142)"><ellipse/><text>→</text></g>
<g id="n41-5" class="l" transform="translate(292 2142)"><ellipse/><text>→</text></g>
<g id="n41-6" class="d" transform="translate(344 2142)"><ellipse/><text>→</text></g>
<g id="n41-7" class="l" transform="translate(396 2142)"><ellipse/><text>→</text></g>
<g id="n41-8" class="l" transform="translate(448 2142)"><ellipse/><text>→</text></g>
<g id="n41-9" class="l" transform="translate(500 2142)"><ellipse/><text>→</text></g>
<g id="n41-10" class="l" transform="translate(552 2142)"><ellipse/><text>→</text></g>
<g id="n42-1" class="l" transform="translate(84 2194)"><ellipse/><text>←</text></g>
<g id="n42-2" class="l" transform="translate(136 2194)"><ellipse/><text>←</text></g>
<g id="n42-3" class="d" transform="translate(188 2194)"><ellipse/><text>←</text></g>
<g id="n42-4" class="d" transform="translate(240 2194)"><ellipse/><text>←</text></g>
<g id="n42-5" class="l" transform="translate(292 2194)"><ellipse/><text>←</text></g>
<g id="n42-6" class="d" transform="translate(344 2194)"><ellipse/><text>←</text></g>
<g id="n42-7" class="l" transform="translate(396 2194)"><ellipse/><text>←</text></g>
<g id="n42-8" class="l" transform="translate(448 2194)"><ellipse/><text>←</text></g>
<g id="n42-9" class="l" transform="translate(500 2194)"><ellipse/><text>←</text></g>
<g id="n42-10" class="l" transform="translate(552 2194)"><ellipse/><text>←</text></g>
<g id="n43-1" class="d" transform="translate(84 2246)"><ellipse/><text>→</text></g>
<g id="n43-2" class="l" transform="translate(136 2246)"><ellipse/><text>→</text></g>
<g id="n43-3" class="d" transform="translate(188 2246)"><ellipse/><text>→</text></g>
<g id="n43-4" class="d" transform="translate(240 2246)"><ellipse/><text>→</text></g>
<g id="n43-5" class="d" transform="translate(292 2246)"><ellipse/><text>→</text></g>
<g id="n43-6" class="d" transform="translate(344 2246)"><ellipse/><text>→</text></g>
<g id="n43-7" class="d" transform="translate(396 2246)"><ellipse/><text>→</text></g>
<g id="n43-8" class="l" transform="translate(448 2246)"><ellipse/><text>→</text></g>
<g id="n43-9" class="l" transform="translate(500 2246)"><ellipse/><text>→</text></g>
<g id="n43-10" class="l" transform="translate(552 2246)"><ellipse/><text>→</text></g>
<g id="n44-1" class="d" transform="translate(84 2298)"><ellipse/><text>←</text></g>
<g id="n44-2" class="l" transform="translate(136 2298)"><ellipse/><text>←</text></g>
<g id="n44-3" class="d" transform="translate(188 2298)"><ellipse/><text>←</text></g>
<g id="n44-4" class="d" transform="translate(240 2298)"><ellipse/><text>←</text></g>
<g id="n44-5" class="d" transform="translate(292 2298)"><ellipse/><text>←</text></g>
<g id="n44-6" class="d" transform="translate(344 2298)"><ellipse/><text>←</text></g>
<g id="n44-7" class="d" transform="translate(396 2298)"><ellipse/><text>←</text></g>
<g id="n44-8" class="l" transform="translate(448 2298)"><ellipse/><text>←</text></g>
<g id="n44-9" class="l" transform="translate(500 2298)"><ellipse/><text>←</text></g>
<g id="n44-10" class="l" transform="translate(552 2298)"><ellipse/><text>←</text></g>
<g id="n45-1" class="d" transform="translate(84 2350)"><ellipse/><text>→</text></g>
<g id="n45-2" class="l" transform="translate(136 2350)"><ellipse/><text>→</text></g>
<g id="n45-3" class="l" transform="translate(188 2350)"><ellipse/><text>→</text></g>
<g id="n45-4" class="d" transform="translate(240 2350)"><ellipse/><text>→</text></g>
<g id="n45-5" class="d" transform="translate(292 2350)"><ellipse/><text>→</text></g>
<g id="n45-6" class="d" transform="translate(344 2350)"><ellipse/><text>→</text></g>
<g id="n45-7" class="l" transform="translate(396 2350)"><ellipse/><text>→</text></g>
<g id="n45-8" class="l" transform="translate(448 2350)"><ellipse/><text>→</text></g>
<g id="n45-9" class="l" transform="translate(500 2350)"><ellipse/><text>→</text></g>
<g id="n45-10" class="l" transform="translate(552 2350)"><ellipse/><text>→</text></g>
<g id="n46-1" class="d" transform="translate(84 2402)"><ellipse/><text>←</text></g>
<g id="n46-2" class="d" transform="translate(136 2402)"><ellipse/><text>←</text></g>
<g id="n46-3" class="l" transform="translate(188 2402)"><ellipse/><text>←</text></g>
<g id="n46-4" class="l" transform="translate(240 2402)"><ellipse/><text>←</text></g>
<g id="n46-5" class="l" transform="translate(292 2402)"><ellipse/><text>←</text></g>
<g id="n46-6" class="l" transform="translate(344 2402)"><ellipse/><text>←</text></g>
<g id="n46-7" class="l" transform="translate(396 2402)"><ellipse/><text>←</text></g>
<g id="n46-8" class="l" transform="translate(448 2402)"><ellipse/><text>←</text></g>
<g id="n46-9" class="l" transform="translate(500 2402)"><ellipse/><text>←</text></g>
<g id="n46-10" class="l" transform="translate(552 2402)"><ellipse/><text>←</text></g>
<g id="n47-1" class="d" transform="translate(84 2454)"><ellipse/><text>→</text></g>
<g id="n47-2" class="d" transform="translate(136 2454)"><ellipse/><text>→</text></g>
<g id="n47-3" class="d" transform="translate(188 2454)"><ellipse/><text>→</text></g>
<g id="n47-4" class="l" transform="translate(240 2454)"><ellipse/><text>→</text></g>
<g id="n47-5" class="l" transform="translate(292 2454)"><ellipse/><text>→</text></g>
<g id="n47-6" class="l" transform="translate(344 2454)"><ellipse/><text>→</text></g>
<g id="n47-7" class="l" transform="translate(396 2454)"><ellipse/><text>→</text></g>
<g id="n47-8" class="l" transform="translate(448 2454)"><ellipse/><text>→</text></g>
<g id="n47-9" class="l" transform="translate(500 2454)"><ellipse/><text>→</text></g>
<g id="n47-10" class="l" transform="translate(552 2454)"><ellipse/><text>→</text></g>
<g id="n48-1" class="d" transform="translate(84 2506)"><ellipse/><text>←</text></g>
<g id="n48-2" class="d" transform="translate(136 2506)"><ellipse/><text>←</text></g>
<g id="n48-3" class="d" transform="translate(188 2506)"><ellipse/><text>←</text></g>
<g id="n48-4" class="d" transform="translate(240 2506)"><ellipse/><text>←</text></g>
<g id="n48-5" class="l" transform="translate(292 2506)"><ellipse/><text>←</text></g>
<g id="n48-6" class="l" transform="translate(344 2506)"><ellipse/><text>←</text></g>
<g id="n48-7" class="l" transform="translate(396 2506)"><ellipse/><text>←</text></g>
<g id="n48-8" class="l" transform="translate(448 2506)"><ellipse/><text>←</text></g>
<g id="n48-9" class="l" transform="translate(500 2506)"><ellipse/><text>←</text></g>
<g id="n48-10" class="l" transform="translate(552 2506)"><ellipse/><text>←</text></g>
<g id="n49-1" class="d" transform="translate(84 2558)"><ellipse/><text>→</text></g>
<g id="n49-2" class="d" transform="translate(136 2558)"><ellipse/><text>→</text></g>
<g id="n49-3" class="d" transform="translate(188 2558)"><ellipse/><text>→</text></g>
<g id="n49-4" class="d" transform="translate(240 2558)"><ellipse/><text>→</text></g>
<g id="n49-5" class="d" transform="translate(292 2558)"><ellipse/><text>→</text></g>
<g id="n49-6" class="l" transform="translate(344 2558)"><ellipse/><text>→</text></g>
<g id="n49-7" class="l" transform="translate(396 2558)"><ellipse/><text>→</text></g>
<g id="n49-8" class="l" transform="translate(448 2558)"><ellipse/><text>→</text></g>
<g id="n49-9" class="l" transform="translate(500 2558)"><ellipse/><text>→</text></g>
<g id="n49-10" class="l" transform="translate(552 2558)"><ellipse/><text>→</text></g>
<g id="n50-1" class="d" transform="translate(84 2610)"><ellipse/><text>←</text></g>
<g id="n50-2" class="d" transform="translate(136 2610)"><ellipse/><text>←</text></g>
<g id="n50-3" class="d" transform="translate(188 2610)"><ellipse/><text>←</text></g>
<g id="n50-4" class="d" transform="translate(240 2610)"><ellipse/><text>←</text></g>
<g id="n50-5" class="d" transform="translate(292 2610)"><ellipse/><text>←</text></g>
<g id="n50-6" class="d" transform="translate(344 2610)"><ellipse/><text>←</text></g>
<g id="n50-7" class="l" transform="translate(396 2610)"><ellipse/><text>←</text></g>
<g id="n50-8" class="l" transform="translate(448 2610)"><ellipse/><text>←</text></g>
<g id="n50-9" class="l" transform="translate(500 2610)"><ellipse/><text>←</text></g>
<g id="n50-10" class="l" transform="translate(552 2610)"><ellipse/><text>←</text></g>
</g>
<g id="crossovers">
<g><line class="o" x1="330.4" y1="75.6" x2="305.6" y2="100.4"/><line class="cd" x1="330.4" y1="75.6" x2="305.6" y2="100.4"/></g>
<g><line class="o" x1="153.2" y1="274.3" x2="326.9" y2="317.7"/><line class="cd" x1="153.2" y1="274.3" x2="326.9" y2="317.7"/></g>
<g><line class="o" x1="204.9" y1="587.6" x2="327.1" y2="628.4"/><line class="cd" x1="204.9" y1="587.6" x2="327.1" y2="628.4"/></g>
<g><line class="o" x1="256.9" y1="691.6" x2="379.1" y2="732.4"/><line class="cd" x1="256.9" y1="691.6" x2="379.1" y2="732.4"/></g>
<g><line class="o" x1="171.8" y1="746.1" x2="100.2" y2="781.9"/><line class="cd" x1="171.8" y1="746.1" x2="100.2" y2="781.9"/></g>
<g><line class="o" x1="360.2" y1="798.1" x2="431.8" y2="833.9"/><line class="cd" x1="360.2" y1="798.1" x2="431.8" y2="833.9"/></g>
<g><line class="o" x1="305.6" y1="1843.6" x2="330.4" y2="1868.4"/><line class="cd" x1="305.6" y1="1843.6" x2="330.4" y2="1868.4"/></g>
<g><line class="o" x1="100.2" y1="1890.1" x2="171.8" y2="1925.9"/><line class="cd" x1="100.2" y1="1890.1" x2="171.8" y2="1925.9"/></g>
<g><line class="o" x1="379.1" y1="1939.6" x2="256.9" y2="1980.4"/><line class="cd" x1="379.1" y1="1939.6" x2="256.9" y2="1980.4"/></g>
<g><line class="o" x1="327.1" y1="2043.6" x2="204.9" y2="2084.4"/><line class="cd" x1="327.1" y1="2043.6" x2="204.9" y2="2084.4"/></g>
<g><line class="o" x1="171.8" y1="2202.1" x2="100.2" y2="2237.9"/><line class="cd" x1="171.8" y1="2202.1" x2="100.2" y2="2237.9"/></g>
<g><line class="o" x1="326.9" y1="2354.3" x2="153.2" y2="2397.7"/><line class="cd" x1="326.9" y1="2354.3" x2="153.2" y2="2397.7"/></g>
<g><line class="o" x1="201.6" y1="2467.6" x2="226.4" y2="2492.4"/><line class="cd" x1="201.6" y1="2467.6" x2="226.4" y2="2492.4"/></g>
<g><line class="o" x1="305.6" y1="2571.6" x2="330.4" y2="2596.4"/><line class="cd" x1="305.6" y1="2571.6" x2="330.4" y2="2596.4"/></g>
<g><line class="o" x1="327.8" y1="122.1" x2="256.2" y2="157.9"/><line class="cl" x1="327.8" y1="122.1" x2="256.2" y2="157.9"/></g>
<g><line class="o" x1="226.4" y1="231.6" x2="201.6" y2="256.4"/><line class="cl" x1="226.4" y1="231.6" x2="201.6" y2="256.4"/></g>
<g><line class="o" x1="97.6" y1="751.6" x2="122.4" y2="776.4"/><line class="cl" x1="97.6" y1="751.6" x2="122.4" y2="776.4"/></g>
<g><line class="o" x1="153.2" y1="1054.3" x2="326.9" y2="1097.7"/><line class="cl" x1="153.2" y1="1054.3" x2="326.9" y2="1097.7"/></g>
<g><line class="o" x1="326.9" y1="1574.3" x2="153.2" y2="1617.7"/><line class="cl" x1="326.9" y1="1574.3" x2="153.2" y2="1617.7"/></g>
<g><line class="o" x1="122.4" y1="1895.6" x2="97.6" y2="1920.4"/><line class="cl" x1="122.4" y1="1895.6" x2="97.6" y2="1920.4"/></g>
<g><line class="o" x1="97.6" y1="2207.6" x2="122.4" y2="2232.4"/><line class="cl" x1="97.6" y1="2207.6" x2="122.4" y2="2232.4"/></g>
<g><line class="o" x1="201.6" y1="2415.6" x2="226.4" y2="2440.4"/><line class="cl" x1="201.6" y1="2415.6" x2="226.4" y2="2440.4"/></g>
<g><line class="o" x1="305.6" y1="2519.6" x2="330.4" y2="2544.4"/><line class="cl" x1="305.6" y1="2519.6" x2="330.4" y2="2544.4"/></g>
</g>
<text class="wm" x="318" y="1341">BRACELETBOOK.COM</text>
</svg>
